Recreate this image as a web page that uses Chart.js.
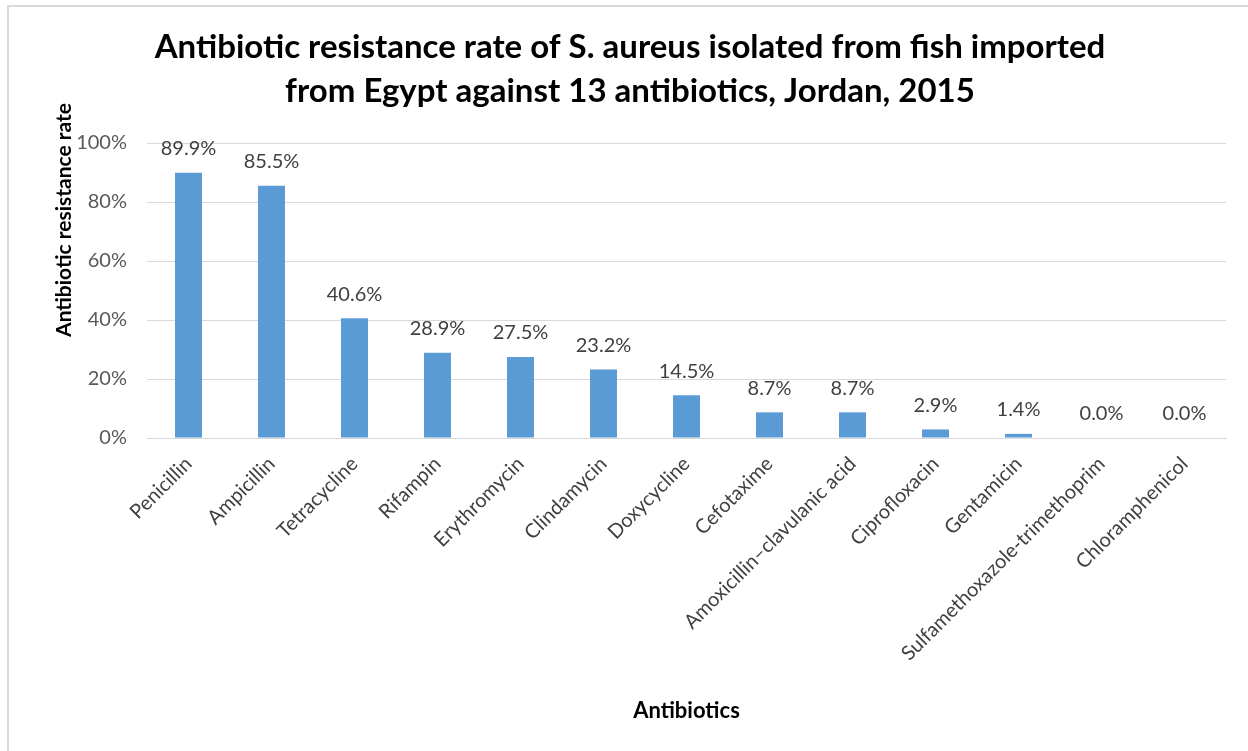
<!DOCTYPE html>
<html>
<head>
<meta charset="utf-8">
<script src="https://cdn.jsdelivr.net/npm/chart.js@4.4.1/dist/chart.umd.min.js"></script>
<style>
  html, body { margin: 0; padding: 0; background: #fff; overflow: hidden; }
  #wrap { position: relative; width: 1248px; height: 751px; }
  #frame { position: absolute; left: 7px; top: 5px; width: 1300px; height: 800px;
           border: 2px solid #d9d9d9; box-sizing: border-box; pointer-events: none; }
  canvas { position: absolute; left: 0; top: 0; }
</style>
</head>
<body>
<div id="wrap">
  <canvas id="chart" width="1248" height="751"></canvas>
  <div id="frame"></div>
</div>
<script>
// Antibiotics tested
const categories = [
  'Penicillin', 'Ampicillin', 'Tetracycline', 'Rifampin', 'Erythromycin',
  'Clindamycin', 'Doxycycline', 'Cefotaxime', 'Amoxicillin\u2013clavulanic acid',
  'Ciprofloxacin', 'Gentamicin', 'Sulfamethoxazole-trimethoprim', 'Chloramphenicol'
];
// Resistance rate, percent of isolates
const resistanceRate = [89.9, 85.5, 40.6, 28.9, 27.5, 23.2, 14.5, 8.7, 8.7, 2.9, 1.4, 0.0, 0.0];
// Y axis ticks, percent
const yTicks = [0, 20, 40, 60, 80, 100];

const titleLines = [
  'Antibiotic resistance rate of S. aureus isolated from fish imported',
  'from Egypt against 13 antibiotics, Jordan, 2015'
];
const xTitle = 'Antibiotics';
const yTitle = 'Antibiotic resistance rate';

const FONT = 'Lato, "Open Sans", sans-serif';

// Title, axis titles and value labels
const annotate = {
  id: 'annotate',
  afterDatasetsDraw(chart) {
    const ctx = chart.ctx;
    const area = chart.chartArea;
    ctx.save();
    // value labels above each bar
    ctx.fillStyle = '#404040';
    ctx.font = '20px ' + FONT;
    ctx.textAlign = 'center';
    ctx.textBaseline = 'middle';
    chart.getDatasetMeta(0).data.forEach((bar, i) => {
      ctx.fillText(resistanceRate[i].toFixed(1) + '%', bar.x, bar.y - 24);
    });
    // chart title
    ctx.fillStyle = '#000';
    ctx.font = 'bold 33px ' + FONT;
    ctx.fillText(titleLines[0], 630, 47);
    ctx.fillText(titleLines[1], 630, 91);
    // x axis title
    ctx.font = 'bold 22px ' + FONT;
    ctx.fillText(xTitle, (area.left + area.right) / 2, 711);
    // y axis title
    ctx.font = 'bold 21px ' + FONT;
    ctx.translate(64, 220);
    ctx.rotate(-Math.PI / 2);
    ctx.fillText(yTitle, 0, 0);
    ctx.restore();
  }
};

new Chart(document.getElementById('chart'), {
  type: 'bar',
  data: {
    labels: categories,
    datasets: [{
      data: resistanceRate,
      backgroundColor: '#5b9bd5',
      borderWidth: 0,
      categoryPercentage: 1,
      barPercentage: 0.325
    }]
  },
  options: {
    responsive: false,
    devicePixelRatio: 1,
    animation: false,
    layout: { padding: { left: 0, right: 22, top: 143, bottom: 0 } },
    plugins: { legend: { display: false }, title: { display: false }, tooltip: { enabled: false } },
    scales: {
      x: {
        grid: { display: false, drawTicks: false },
        border: { display: true, color: '#d9d9d9', width: 1 },
        ticks: {
          color: '#404040',
          font: { family: FONT, size: 20 },
          maxRotation: 45, minRotation: 45,
          padding: 14,
          autoSkip: false
        },
        afterFit(scale) { scale.height = 751 - 438; }
      },
      y: {
        min: 0, max: 100,
        afterBuildTicks(scale) { scale.ticks = yTicks.map(v => ({ value: v })); },
        grid: { color: '#d9d9d9', lineWidth: 1, drawTicks: false },
        border: { display: false },
        ticks: {
          color: '#595959',
          font: { family: FONT, size: 20 },
          padding: 20,
          callback: v => v + '%'
        },
        afterFit(scale) { scale.width = 147; }
      }
    }
  },
  plugins: [annotate]
});
</script>
</body>
</html>
